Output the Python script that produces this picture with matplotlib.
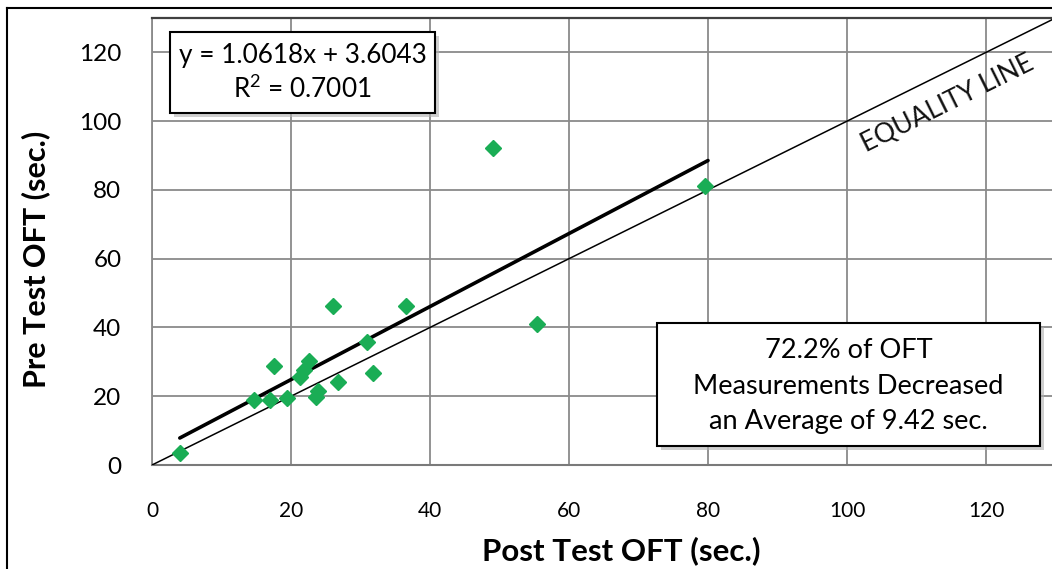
import numpy as np
import matplotlib
matplotlib.use("Agg")
import matplotlib.pyplot as plt
from matplotlib.patches import Rectangle
from matplotlib.lines import Line2D

# ---- data ----
post_test = [4.0, 14.7, 17.0, 19.4, 17.6, 21.3, 21.9, 22.6, 23.6, 23.9,
             26.7, 26.1, 36.5, 31.0, 31.8, 49.0, 79.6, 55.4]
pre_test = [3.6, 19.0, 19.0, 19.6, 28.7, 25.6, 27.6, 30.2, 19.8, 21.4,
            24.1, 46.1, 46.1, 35.7, 26.8, 92.3, 81.2, 40.9]
fit_slope = 1.0618
fit_intercept = 3.6043
fit_r2 = 0.7001
fit_x_range = [4, 80]
equality_range = [0, 130]
ticks = [0, 20, 40, 60, 80, 100, 120]
tick_labels = ["0", "20", "40", "60", "80", "100", "120"]
eq_text = "y = 1.0618x + 3.6043"
r2_text = "R$^{2}$ = 0.7001"
summary_lines = ["72.2% of OFT", "Measurements Decreased", "an Average of 9.42 sec."]
x_label = "Post Test OFT (sec.)"
y_label = "Pre Test OFT (sec.)"

W, H, DPI = 1052, 569, 100
FONT = ["Lato", "DejaVu Sans"]
plt.rcParams['font.family'] = FONT
plt.rcParams['mathtext.fontset'] = 'custom'
plt.rcParams['mathtext.rm'] = 'Lato'
plt.rcParams['mathtext.it'] = 'Lato'
plt.rcParams['mathtext.bf'] = 'Lato:bold'

def fx(x):
    return x / W

def fy(y):
    return 1 - y / H

fig = plt.figure(figsize=(W / DPI, H / DPI), dpi=DPI)
fig.patch.set_facecolor("white")

ax = fig.add_axes([fx(152), fy(465), (1055.5 - 152) / W, (465 - 18) / H])
ax.set_xlim(0, 130)
ax.set_ylim(0, 130)
ax.set_xticks(ticks)
ax.set_yticks(ticks)
ax.set_xticklabels(tick_labels, fontsize=15)
ax.set_yticklabels(tick_labels, fontsize=17.5)
ax.tick_params(length=0)
ax.tick_params(axis='y', pad=22)
ax.tick_params(axis='x', pad=26)
ax.grid(True, color="#8a8a8a", linewidth=1.3)
ax.set_axisbelow(True)
ax.spines["right"].set_visible(False)
ax.spines["left"].set_color("#8a8a8a")
ax.spines["left"].set_linewidth(1.3)
ax.spines["bottom"].set_color("#7a7a7a")
ax.spines["bottom"].set_linewidth(1.5)
ax.spines["top"].set_color("#404040")
ax.spines["top"].set_linewidth(1.6)

# equality line
ax.plot(equality_range, equality_range, color="black", linewidth=1.1, zorder=3)
# trend line
fx_arr = np.array(fit_x_range, dtype=float)
ax.plot(fx_arr, fit_slope * fx_arr + fit_intercept, color="black",
        linewidth=2.6, solid_capstyle="round", zorder=4)
# points
ax.plot(post_test, pre_test, linestyle="none", marker="D", markersize=8.3,
        color="#1aad55", markeredgecolor="#1aad55", zorder=5)

ax.text(114.4, 105.2, "EQUALITY LINE", rotation=26.4, rotation_mode="anchor",
        ha="center", va="center", fontsize=19, color="#111111", zorder=6)

# labels
fig.text(fx(621), fy(551), x_label, ha="center", va="center",
         fontsize=22.5, fontweight="bold")
fig.text(fx(36), fy(259), y_label, ha="center", va="center", rotation=90,
         fontsize=22, fontweight="bold")

# boxes
def box(x0, y0, x1, y1):
    sh = Rectangle((fx(x0 + 4), fy(y1 + 4)), (x1 - x0) / W, (y1 - y0) / H,
                   transform=fig.transFigure, facecolor="#b0b0b0",
                   edgecolor="none", alpha=0.6, zorder=9)
    fig.add_artist(sh)
    r = Rectangle((fx(x0), fy(y1)), (x1 - x0) / W, (y1 - y0) / H,
                  transform=fig.transFigure, facecolor="white",
                  edgecolor="black", linewidth=1.5, zorder=10)
    fig.add_artist(r)

box(170, 32, 435, 113)
fig.text(fx(302.5), fy(55), eq_text, ha="center", va="center", fontsize=18.8, zorder=11)
fig.text(fx(302.5), fy(89), r2_text, ha="center", va="center", fontsize=18.8, zorder=11)

box(657, 323, 1040, 446)
for i, line in enumerate(summary_lines):
    fig.text(fx(848.5), fy(350 + 36 * i), line, ha="center", va="center",
             fontsize=19.5, zorder=11)

# outer frame (left and top edges visible)
fig.add_artist(Line2D([fx(7), fx(7)], [fy(8), 0], transform=fig.transFigure,
                      color="black", linewidth=1.5))
fig.add_artist(Line2D([fx(7), 1], [fy(8), fy(8)], transform=fig.transFigure,
                      color="black", linewidth=1.5))

fig.savefig("out.png", dpi=DPI)
